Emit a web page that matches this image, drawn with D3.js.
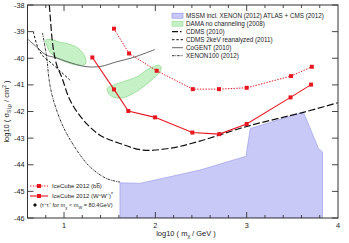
<!DOCTYPE html>
<html>
<head>
<meta charset="utf-8">
<script src="https://cdn.jsdelivr.net/npm/d3@7"></script>
<style>
  body { margin: 0; background: #fff; }
  text { font-family: "Liberation Sans", Arial, sans-serif; fill: #222; }
</style>
</head>
<body>
<div id="chart"></div>
<script>
// data, in log10(mass/GeV) and log10(sigma/cm^2)
var icecubeMassBB = [1.547, 1.712, 2.015, 2.41, 2.697, 3.0, 3.486, 3.713];
var icecubeSigmaBB = [-38.89, -39.82, -40.47, -41.16, -41.16, -41.11, -40.67, -40.32];
var icecubeMassWW = [1.31, 1.547, 1.704, 1.997, 2.405, 2.70, 3.0, 3.48, 3.705];
var icecubeSigmaWW = [-39.97, -41.17, -41.98, -42.22, -42.79, -42.85, -42.47, -41.47, -40.99];

var cdmsMass = [0.839, 0.852, 0.868, 0.890, 0.923, 0.978, 1.065, 1.211, 1.394, 1.613, 1.865, 2.161, 2.489, 3.012, 3.621, 4.0];
var cdmsSigma = [-38.0, -38.56, -39.24, -39.80, -40.29, -40.74, -41.57, -42.32, -42.89, -43.20, -43.45, -43.38, -43.11, -42.55, -42.03, -41.67];

var cdms2keVMass = [0.664, 0.693, 0.726, 0.770, 0.846, 0.934, 1.065];
var cdms2keVSigma = [-39.0, -39.39, -39.69, -39.92, -40.14, -40.41, -40.82];

var cogentMass = [0.605, 0.718, 0.803, 0.901, 1.044, 1.230, 1.394, 1.580, 1.759, 1.996];
var cogentSigma = [-39.29, -39.63, -39.88, -39.97, -40.14, -40.31, -40.31, -40.13, -39.97, -39.67];

var xenonMass = [0.764, 0.792, 0.814, 0.830, 0.846, 0.883, 0.992, 1.139, 1.285, 1.467, 1.613];
var xenonSigma = [-39.05, -39.58, -40.07, -40.63, -41.01, -41.57, -42.58, -43.45, -44.08, -44.52, -44.65];

var damaMass1 = [0.799, 0.868, 0.937, 1.084, 1.153, 1.197, 1.230, 1.235, 1.156, 1.011, 0.901, 0.846, 0.814];
var damaSigma1 = [-39.32, -39.30, -39.38, -39.50, -39.62, -39.77, -39.95, -40.22, -40.26, -40.13, -39.94, -39.77, -39.54];
var damaMass2 = [1.474, 1.540, 1.649, 1.796, 1.906, 1.978, 2.033, 2.062, 2.051, 1.978, 1.868, 1.759, 1.649, 1.558, 1.496];
var damaSigma2 = [-41.13, -41.01, -40.88, -40.70, -40.44, -40.32, -40.26, -40.32, -40.51, -40.76, -41.07, -41.32, -41.48, -41.48, -41.36];

var mssmMass = [1.613, 1.613, 1.832, 2.49, 2.995, 3.005, 3.04, 3.62, 3.65, 3.71, 3.785, 3.83, 3.83];
var mssmSigma = [-46, -44.68, -44.70, -44.2, -43.68, -43.4, -42.64, -42.03, -42.26, -42.76, -43.39, -43.52, -46];

var xTicks = [1, 2, 3, 4];
var yTicks = [-46, -45, -44, -43, -42, -41, -40, -39, -38];

var width = 349, height = 243;
var margin = { left: 27.5, right: 11, top: 5, bottom: 25 };
var red = "#e8161e";

var svg = d3.select("#chart").append("svg")
    .attr("width", width)
    .attr("height", height);

var x = d3.scaleLinear().domain([0.6, 4]).range([margin.left, width - margin.right]);
var y = d3.scaleLinear().domain([-46, -38]).range([height - margin.bottom, margin.top]);

function zip(xs, ys) {
    return xs.map(function (d, i) { return [d, ys[i]]; });
}

var plot = svg.append("g");
plot.append("clipPath").attr("id", "clip")
    .append("rect")
    .attr("x", x(0.6)).attr("y", y(-38))
    .attr("width", x(4) - x(0.6)).attr("height", y(-46) - y(-38));
var inner = plot.append("g").attr("clip-path", "url(#clip)");

var straight = d3.line().x(function (d) { return x(d[0]); }).y(function (d) { return y(d[1]); });
var smooth = d3.line().x(function (d) { return x(d[0]); }).y(function (d) { return y(d[1]); })
    .curve(d3.curveCatmullRom.alpha(0.5));
var blob = d3.line().x(function (d) { return x(d[0]); }).y(function (d) { return y(d[1]); })
    .curve(d3.curveCatmullRomClosed.alpha(0.5));

// MSSM region
inner.append("path")
    .attr("d", straight(zip(mssmMass, mssmSigma)) + "Z")
    .attr("fill", "#c9c9f7")
    .attr("stroke", "#a4a4ee")
    .attr("stroke-width", 0.8);

// DAMA regions
[[damaMass1, damaSigma1], [damaMass2, damaSigma2]].forEach(function (r) {
    inner.append("path")
        .attr("d", blob(zip(r[0], r[1])))
        .attr("fill", "#c6f0c6")
        .attr("stroke", "#8fdc8f")
        .attr("stroke-width", 0.8);
});

// exclusion curves
inner.append("path").attr("d", smooth(zip(cogentMass, cogentSigma)))
    .attr("fill", "none").attr("stroke", "#555").attr("stroke-width", 0.9);
inner.append("path").attr("d", smooth(zip(cdms2keVMass, cdms2keVSigma)))
    .attr("fill", "none").attr("stroke", "#111").attr("stroke-width", 1)
    .attr("stroke-dasharray", "2.5,1.8");
inner.append("path").attr("d", smooth(zip(xenonMass, xenonSigma)))
    .attr("fill", "none").attr("stroke", "#111").attr("stroke-width", 0.9)
    .attr("stroke-dasharray", "2.4,1,0.8,1");
inner.append("path").attr("d", smooth(zip(cdmsMass, cdmsSigma)))
    .attr("fill", "none").attr("stroke", "#111").attr("stroke-width", 1.2)
    .attr("stroke-dasharray", "7,2.5");

// IceCube
inner.append("path").attr("d", straight(zip(icecubeMassBB, icecubeSigmaBB)))
    .attr("fill", "none").attr("stroke", red).attr("stroke-width", 1)
    .attr("stroke-dasharray", "1.4,1.4");
inner.append("path").attr("d", straight(zip(icecubeMassWW, icecubeSigmaWW)))
    .attr("fill", "none").attr("stroke", red).attr("stroke-width", 1.1);

function squares(data) {
    inner.selectAll(null).data(data).enter().append("rect")
        .attr("x", function (d) { return x(d[0]) - 2; })
        .attr("y", function (d) { return y(d[1]) - 2; })
        .attr("width", 4).attr("height", 4)
        .attr("fill", red);
}
squares(zip(icecubeMassBB, icecubeSigmaBB));
squares(zip(icecubeMassWW, icecubeSigmaWW));

// frame + inward ticks
var x0 = x(0.6), x1 = x(4), y0 = y(-46), y1 = y(-38);
var axisColor = "#333";
plot.append("rect").attr("x", x0).attr("y", y1).attr("width", x1 - x0).attr("height", y0 - y1)
    .attr("fill", "none").attr("stroke", axisColor).attr("stroke-width", 1);

var xMinor = d3.range(6, 40, 2).map(function (d) { return d / 10; });
xMinor.forEach(function (v) {
    var major = Math.abs(v - Math.round(v)) < 1e-6;
    var len = major ? 6 : 3;
    plot.append("line").attr("x1", x(v)).attr("x2", x(v)).attr("y1", y0).attr("y2", y0 - len)
        .attr("stroke", axisColor).attr("stroke-width", 0.9);
    plot.append("line").attr("x1", x(v)).attr("x2", x(v)).attr("y1", y1).attr("y2", y1 + len)
        .attr("stroke", axisColor).attr("stroke-width", 0.9);
});
yTicks.forEach(function (v) {
    plot.append("line").attr("x1", x0).attr("x2", x0 + 6).attr("y1", y(v)).attr("y2", y(v))
        .attr("stroke", axisColor).attr("stroke-width", 0.9);
    plot.append("line").attr("x1", x1).attr("x2", x1 - 6).attr("y1", y(v)).attr("y2", y(v))
        .attr("stroke", axisColor).attr("stroke-width", 0.9);
});

svg.selectAll(".xtl").data(xTicks).enter().append("text")
    .attr("x", function (d) { return x(d); })
    .attr("y", y0 + 10)
    .attr("text-anchor", "middle")
    .attr("font-size", 7.3)
    .text(function (d) { return d; });
svg.selectAll(".ytl").data(yTicks).enter().append("text")
    .attr("x", x0 - 3)
    .attr("y", function (d) { return y(d) + 2.5; })
    .attr("text-anchor", "end")
    .attr("font-size", 7.3)
    .text(function (d) { return d; });

// axis titles
var xt = svg.append("text").attr("x", 186).attr("y", 236).attr("text-anchor", "middle").attr("font-size", 7.5);
xt.append("tspan").text("log10 ( m");
xt.append("tspan").attr("font-size", 5).attr("dy", 2).text("χ");
xt.append("tspan").attr("dy", -2).text(" / GeV )");

var yt = svg.append("text").attr("transform", "translate(9," + (margin.top + y0) / 2 + ") rotate(-90)")
    .attr("text-anchor", "middle").attr("font-size", 7.5);
yt.append("tspan").text("log10 ( σ");
yt.append("tspan").attr("font-size", 5).attr("dy", 2).text("SI,p");
yt.append("tspan").attr("dy", -2).text(" / cm");
yt.append("tspan").attr("font-size", 5).attr("dy", -3).text("2");
yt.append("tspan").attr("dy", 3).text(" )");

// top right legend
var legendLabels = ["MSSM incl. XENON (2012) ATLAS + CMS (2012)", "DAMA no channeling (2008)", "CDMS (2010)",
    "CDMS 2keV reanalyzed (2011)", "CoGENT (2010)", "XENON100 (2012)"];
var lg = svg.append("g");
legendLabels.forEach(function (t, i) {
    var cy = 15.7 + i * 8;
    if (i === 0) {
        lg.append("rect").attr("x", 172).attr("y", cy - 2.5).attr("width", 11).attr("height", 5)
            .attr("fill", "#c9c9f7").attr("stroke", "#8c8ce6").attr("stroke-width", 0.6);
    } else if (i === 1) {
        lg.append("rect").attr("x", 172).attr("y", cy - 2.5).attr("width", 11).attr("height", 5)
            .attr("fill", "#c6f0c6").attr("stroke", "#8fdc8f").attr("stroke-width", 0.6);
    } else {
        var styles = [null, null, ["#111", "6,2,1.5,9", 1.2], ["#111", "2.5,1.8", 1], ["#555", null, 0.9], ["#111", "2.4,1,0.8,1", 0.9]];
        var s = styles[i];
        lg.append("line").attr("x1", 172).attr("x2", 183).attr("y1", cy).attr("y2", cy)
            .attr("stroke", s[0]).attr("stroke-width", s[2]).attr("stroke-dasharray", s[1]);
    }
    lg.append("text").attr("x", 186).attr("y", cy + 2.2).attr("font-size", 6.3).text(t);
});

// bottom left legend
var bl = svg.append("g");
bl.append("line").attr("x1", 30).attr("x2", 48).attr("y1", 186).attr("y2", 186)
    .attr("stroke", red).attr("stroke-width", 1).attr("stroke-dasharray", "1.4,1.4");
bl.append("rect").attr("x", 37).attr("y", 184).attr("width", 4).attr("height", 4).attr("fill", red);
bl.append("line").attr("x1", 30).attr("x2", 48).attr("y1", 196).attr("y2", 196)
    .attr("stroke", red).attr("stroke-width", 1.1);
bl.append("rect").attr("x", 37).attr("y", 194).attr("width", 4).attr("height", 4).attr("fill", red);
bl.append("path").attr("d", "M35,203 L37,205 L35,207 L33,205 Z").attr("fill", "#111");

var t1 = bl.append("text").attr("x", 52).attr("y", 188.2).attr("font-size", 6);
t1.append("tspan").text("IceCube 2012 (b");
t1.append("tspan").attr("text-decoration", "overline").text("b");
t1.append("tspan").text(")");
var t2 = bl.append("text").attr("x", 52).attr("y", 198.2).attr("font-size", 6);
t2.append("tspan").text("IceCube 2012 (W");
t2.append("tspan").attr("font-size", 4).attr("dy", -2).text("+");
t2.append("tspan").attr("font-size", 6).attr("dy", 2).text("W");
t2.append("tspan").attr("font-size", 4).attr("dy", -2).text("−");
t2.append("tspan").attr("font-size", 6).attr("dy", 2).text(")");
t2.append("tspan").attr("font-size", 5).attr("dy", -2.5).text("*");
var t3 = bl.append("text").attr("x", 40).attr("y", 207.2).attr("font-size", 5.6);
t3.append("tspan").text("(τ");
t3.append("tspan").attr("font-size", 4).attr("dy", -2).text("+");
t3.append("tspan").attr("font-size", 5.6).attr("dy", 2).text("τ");
t3.append("tspan").attr("font-size", 4).attr("dy", -2).text("−");
t3.append("tspan").attr("font-size", 5.6).attr("dy", 2).text(" for m");
t3.append("tspan").attr("font-size", 4).attr("dy", 1.5).text("χ");
t3.append("tspan").attr("font-size", 5.6).attr("dy", -1.5).text(" < m");
t3.append("tspan").attr("font-size", 4).attr("dy", 1.5).text("W");
t3.append("tspan").attr("font-size", 5.6).attr("dy", -1.5).text(" = 80.4GeV)");
</script>
</body>
</html>
